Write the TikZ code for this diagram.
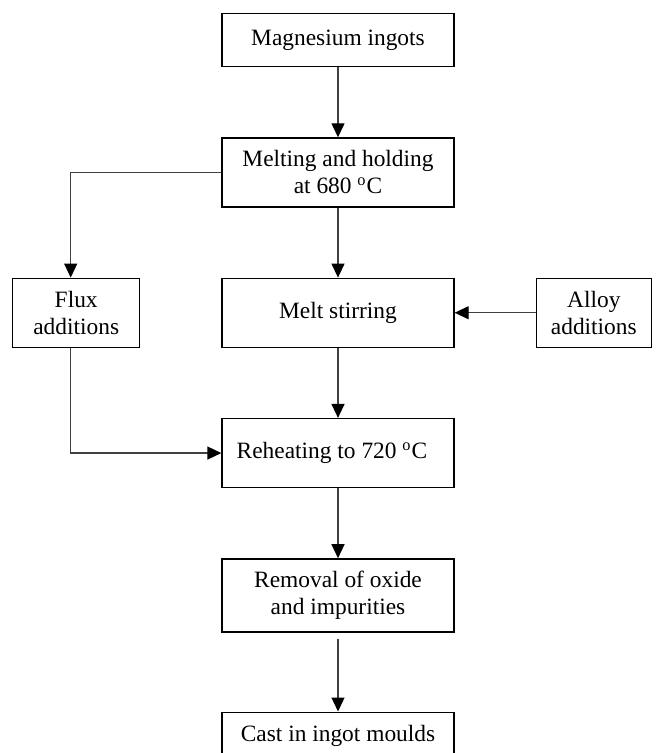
\documentclass[tikz,border=0pt]{standalone}
\usepackage{fontspec}
\setmainfont{Liberation Serif}
\usetikzlibrary{positioning, arrows.meta}

\begin{document}
\begin{tikzpicture}[node distance=35pt, arrow/.style={-{Triangle[width=6.5pt,length=7pt,color=black]}, draw=black!75, line width=0.65pt}, box/.style={draw, rectangle, line width=0.65pt, minimum width=116pt, minimum height=34.5pt, align=center, inner sep=2pt, font=\fontsize{11.7}{13.5}\selectfont}]
    \useasboundingbox (0,0) rectangle (328pt,-376.5pt);

    \node [box, minimum height=26.5pt, anchor=north] (ingots) at (169pt,-6.5pt) {Magnesium ingots};
    \node [box, below = of ingots] (melting) {Melting and holding\\at 680 \textsuperscript{o}C};
    \node [box, below = of melting] (stirring) {Melt stirring};
    \node [box, minimum width=63.5pt, left = 40.5pt of stirring] (flux) {Flux\\additions};
    \node [box, minimum width=57.5pt, right = 40.5pt of stirring] (alloy) {Alloy\\additions};
    \node [box, below = of stirring] (reheating) {Reheating to 720 \textsuperscript{o}C\hspace{6pt}};
    \node [box, minimum height=36.5pt, below = of reheating] (removal) {Removal of oxide\\and impurities};
    \node [box, below = 39.5pt of removal, text height=8pt, text depth=30pt, inner ysep=6.5pt] (cast) {Cast in ingot moulds};

    \draw[arrow] (ingots) -- (melting);
    \draw[arrow] (melting) -- (stirring);
    \draw[arrow] (melting.west) -| ([xshift=-2.75pt]flux.north);
    \draw[arrow] (alloy) -- (stirring);
    \draw[arrow] ([xshift=-2.75pt]flux.south) |- (reheating.west);
    \draw[arrow] (stirring) -- (reheating);
    \draw[arrow] (reheating) -- (removal);
    \draw[arrow, shorten <=3pt] (removal) -- (cast);

\end{tikzpicture}
\end{document}
